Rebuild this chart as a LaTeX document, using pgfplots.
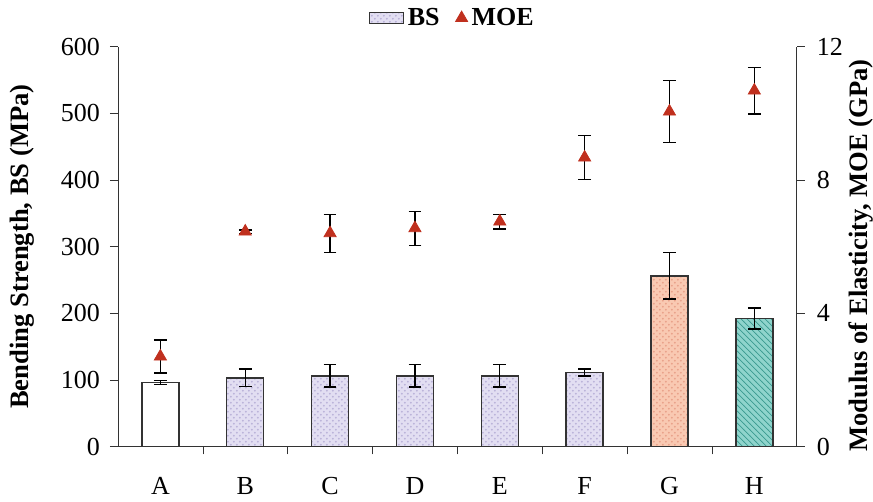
\documentclass[border=0pt]{standalone}
\usepackage{fontspec}
\setmainfont{Liberation Serif}
\usepackage{pgfplots}
\pgfplotsset{compat=1.18}
\usetikzlibrary{patterns}
\definecolor{lav}{HTML}{E2DEF2}
\definecolor{lavdot}{HTML}{B8B0D8}
\definecolor{peach}{HTML}{F9C9B2}
\definecolor{peachdot}{HTML}{E8A088}
\definecolor{tealf}{HTML}{8FD4CC}
\definecolor{tealh}{HTML}{3A9A90}
\definecolor{moered}{HTML}{C0301E}
\begin{document}
\begin{tikzpicture}
\pgfplotsset{
  every axis/.append style={
    scale only axis, width=339.5pt, height=200pt,
    xmin=-0.5, xmax=7.5,
    tick label style={font=\fontsize{13}{15}\selectfont},
    label style={font=\fontsize{13.3}{15}\selectfont\bfseries},
    /pgf/number format/assume math mode=true,
    major tick length=4pt,
    axis line style={black!80},
    tick style={black!80},
  }
}
\begin{axis}[
  ymin=0, ymax=600,
  axis x line*=bottom, axis y line*=left,
  ytick={0,100,...,600},
  tick align=outside,
  xtick={0,...,7}, xticklabels={A,B,C,D,E,F,G,H},
  xtick style={draw=none},
  xticklabel style={yshift=-8pt},
  yticklabel style={xshift=-1.5pt},
  extra x ticks={0.5,1.5,...,6.5},
  extra x tick labels={},
  extra x tick style={tick align=outside, xtick style={draw=black!80}, major tick length=4pt},
  ylabel={Bending Strength, BS (MPa)},
  ylabel style={at={(axis description cs:-0.1414,0.5)}, anchor=center},
  ybar, bar width=18.5pt,
  error bars/y dir=both, error bars/y explicit,
  error bars/error bar style={black, line width=0.7pt},
  error bars/error mark options={black, line width=0.7pt, mark size=3.2pt, rotate=90},
]
\addplot[bar shift=0pt, fill=white, draw=black!80, line width=0.7pt]
  coordinates {(0,96) +- (0,3)};
\addplot[bar shift=0pt, fill=lav, draw=black!80, line width=0.7pt,
  postaction={pattern=crosshatch dots, pattern color=lavdot}]
  coordinates {(1,103) +- (0,13) (2,106) +- (0,17) (3,106) +- (0,17) (4,106) +- (0,17) (5,111) +- (0,5)};
\addplot[bar shift=0pt, fill=peach, draw=black!80, line width=0.7pt,
  postaction={pattern=crosshatch dots, pattern color=peachdot}]
  coordinates {(6,256) +- (0,35)};
\addplot[bar shift=0pt, fill=tealf, draw=black!80, line width=0.7pt,
  postaction={pattern=north west lines, pattern color=tealh}]
  coordinates {(7,192) +- (0,16)};
\end{axis}
\begin{axis}[
  ymin=0, ymax=12,
  axis y line*=right, axis x line=none,
  ytick={0,4,8,12},
  tick align=outside,
  yticklabel style={xshift=2.5pt},
  ylabel={Modulus of Elasticity, MOE (GPa)},
  ylabel style={at={(axis description cs:1.0943,0.4775)}, anchor=center, inner sep=0pt},
  legend style={at={(0.494,1.025)}, anchor=south, draw=none, fill=none,
    legend columns=2, font=\fontsize{13}{15}\selectfont\bfseries,
    /tikz/every even column/.append style={column sep=6pt}},
  legend cell align=left,
]
\addlegendimage{area legend, fill=lav, draw=black!80, postaction={pattern=crosshatch dots, pattern color=lavdot}}
\addlegendentry{BS}
\addplot[only marks, mark=triangle*, mark size=3.5pt, color=moered,
  error bars/.cd, y dir=both, y explicit,
  error bar style={black, line width=0.7pt},
  error mark options={black, line width=0.7pt, mark size=3.2pt, rotate=90}]
  coordinates {
   (0,2.70) +- (0,0.50)
   (1,6.45) +- (0,0.05)
   (2,6.40) +- (0,0.57)
   (3,6.55) +- (0,0.51)
   (4,6.75) +- (0,0.22)
   (5,8.67) +- (0,0.66)
   (6,10.05) +- (0,0.93)
   (7,10.68) +- (0,0.70)
  };
\addlegendentry{MOE}
\end{axis}
\path (current axis.south west) ++(-59pt,0pt);
\path (current axis.south east) ++(38pt,0pt);
\end{tikzpicture}
\end{document}
